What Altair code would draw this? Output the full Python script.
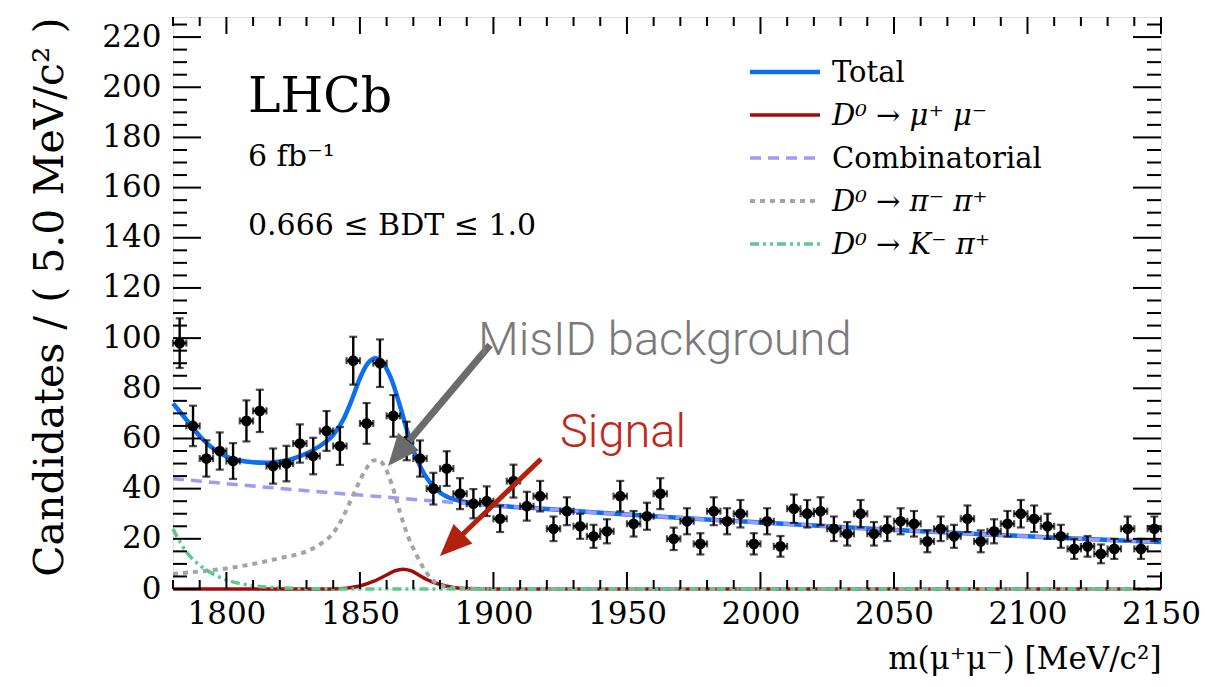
import altair as alt
import pandas as pd
import numpy as np

# ---- binned data: m(mu+ mu-) bin centres (5 MeV bins) and candidate counts ----
bin_lo = 1780
bin_width = 5
counts = [
    98, 65, 52, 55, 51, 67, 71, 49, 50, 58, 53, 63, 57, 91, 66, 90, 69, 59, 52, 40,
    48, 38, 34, 35, 28, 43, 33, 37, 24, 31, 25, 21, 23, 37, 26, 29, 38, 20, 27, 18,
    31, 27, 30, 18, 27, 17, 32, 30, 31, 24, 22, 30, 22, 24, 27, 26, 19, 24, 21, 28,
    19, 23, 26, 30, 28, 25, 21, 16, 17, 14, 16, 24, 16, 24,
]

# ---- fit components, sampled along m ----
total_m = [1780, 1785, 1790, 1795, 1800, 1805, 1810, 1815, 1820, 1825, 1830, 1835,
           1840, 1844, 1847, 1850, 1853, 1856, 1859, 1862, 1865, 1868, 1871, 1874,
           1877, 1880, 1885, 1890, 1900, 1920, 1940, 1960, 1980, 2000, 2020, 2040,
           2060, 2080, 2100, 2120, 2140, 2150]
total_v = [74.0, 67.5, 61.0, 56.0, 52.8, 51.2, 50.5, 50.3, 50.8, 52.0, 54.0, 57.0,
           61.5, 68.0, 75.5, 84.0, 90.0, 92.0, 89.5, 83.0, 73.0, 62.0, 52.5, 46.0,
           41.5, 38.5, 35.8, 34.6, 33.4, 31.9, 30.4, 29.0, 27.7, 26.5, 25.3, 24.1,
           23.0, 22.0, 21.0, 20.0, 19.1, 18.7]

comb_m = [1780, 1800, 1820, 1840, 1860, 1880, 1900, 1920, 1940, 1960, 1980, 2000,
          2020, 2040, 2060, 2080, 2100, 2120, 2140, 2150]
comb_v = [44.0, 42.0, 40.1, 38.3, 36.6, 34.9, 33.4, 31.9, 30.4, 29.0, 27.7, 26.5,
          25.3, 24.1, 23.0, 22.0, 21.0, 20.0, 19.1, 18.7]

pipi_m = [1780, 1790, 1800, 1810, 1820, 1830, 1835, 1840, 1843, 1846, 1849, 1852,
          1855, 1857, 1859, 1862, 1865, 1868, 1871, 1874, 1877, 1880, 1885, 1890,
          1900, 2150]
pipi_v = [6.0, 7.0, 8.2, 10.0, 12.3, 15.0, 17.8, 22.3, 27.3, 34.0, 41.0, 47.3,
          51.2, 51.4, 49.3, 41.5, 30.5, 21.0, 14.0, 8.0, 3.8, 1.6, 0.4, 0.1,
          0.0, 0.0]

sig_m = [1780, 1840, 1845, 1850, 1855, 1860, 1863, 1866, 1869, 1872, 1875, 1880,
         1885, 1890, 1900, 2150]
sig_v = [0.0, 0.05, 0.35, 1.2, 3.0, 5.6, 7.2, 7.9, 7.3, 5.6, 3.8, 1.8,
         0.6, 0.15, 0.0, 0.0]

kpi_m = [1780, 1783, 1786, 1790, 1795, 1800, 1805, 1810, 1820, 1830, 1850, 2150]
kpi_v = [24.0, 18.0, 13.5, 9.5, 6.0, 3.6, 2.2, 1.3, 0.5, 0.15, 0.0, 0.0]

# ---- axis ticks ----
x_major = [1800, 1850, 1900, 1950, 2000, 2050, 2100, 2150]
x_minor = [v for v in range(1780, 2151, 10) if v not in x_major]
y_major = [0, 20, 40, 60, 80, 100, 120, 140, 160, 180, 200, 220]
y_minor = [v for v in range(0, 226, 5) if v not in y_major]

# ---- legend entries ----
leg_labels = ["Total", "D⁰ → μ⁺ μ⁻", "Combinatorial", "D⁰ → π⁻ π⁺", "D⁰ → K⁻ π⁺"]
leg_italic = [False, True, False, True, True]

W, H = 988, 572
X_DOM = [1780, 2150]
Y_DOM = [0, 228]
SERIF = "DejaVu Serif"

C_TOTAL = "#0d6ef2"
C_SIG = "#a10b0b"
C_COMB = "#9c9cf4"
C_PIPI = "#a4a4a4"
C_KPI = "#5dc98d"

xs = alt.Scale(domain=X_DOM, nice=False, zero=False)
ys = alt.Scale(domain=Y_DOM, nice=False, zero=False)

centres = [bin_lo + bin_width * (i + 0.5) for i in range(len(counts))]
err = np.sqrt(np.array(counts, dtype=float))
pts = pd.DataFrame({
    "m": centres,
    "n": counts,
    "lo": np.array(counts) - err,
    "hi": np.array(counts) + err,
    "mlo": np.array(centres) - bin_width / 2,
    "mhi": np.array(centres) + bin_width / 2,
})

x_enc = alt.X("m:Q", scale=xs,
              axis=alt.Axis(values=x_major, format="d", ticks=False, domain=False,
                            grid=False, labelFont=SERIF, labelFontSize=31,
                            labelColor="black", labelPadding=10, labelFlush=False,
                            title="m(μ⁺μ⁻)  [MeV/c²]", titleFont=SERIF,
                            titleFontSize=31, titleFontWeight="normal",
                            titleColor="black", titleAnchor="end", titlePadding=15))
y_enc = alt.Y("v:Q", scale=ys,
              axis=alt.Axis(values=y_major, format="d", ticks=False, domain=False,
                            grid=False, labelFont=SERIF, labelFontSize=31,
                            labelColor="black", labelPadding=12, labelFlush=False,
                            title="Candidates / ( 5.0 MeV/c² )", titleFont=SERIF,
                            titleFontSize=41, titleFontWeight="normal",
                            titleColor="black", titleAnchor="end", titlePadding=30))


def curve(ms, vs, color, width, dash=None):
    df = pd.DataFrame({"m": ms, "v": vs})
    kw = dict(color=color, strokeWidth=width, interpolate="monotone")
    if dash:
        kw["strokeDash"] = dash
    return alt.Chart(df).mark_line(**kw).encode(x=x_enc, y=y_enc)


base_axes = curve(total_m, total_v, C_TOTAL, 4.5)
sig_line = curve(sig_m, sig_v, C_SIG, 3.5)
comb_line = curve(comb_m, comb_v, C_COMB, 3.5, [11, 7])
pipi_line = curve(pipi_m, pipi_v, C_PIPI, 4, [5, 5])
kpi_line = curve(kpi_m, kpi_v, C_KPI, 3.5, [9, 4, 3, 4, 3, 4])

# ---- data points with Poisson errors ----
pc = alt.Chart(pts)
vbar = pc.mark_rule(color="black", strokeWidth=2.4).encode(
    x=alt.X("m:Q", scale=xs), y=alt.Y("lo:Q", scale=ys), y2="hi:Q")
hbar = pc.mark_rule(color="black", strokeWidth=2.4).encode(
    x=alt.X("mlo:Q", scale=xs), x2="mhi:Q", y=alt.Y("n:Q", scale=ys))
cap_lo = pc.mark_tick(color="black", orient="horizontal", size=8, thickness=2.2).encode(
    x=alt.X("m:Q", scale=xs), y=alt.Y("lo:Q", scale=ys))
cap_hi = pc.mark_tick(color="black", orient="horizontal", size=8, thickness=2.2).encode(
    x=alt.X("m:Q", scale=xs), y=alt.Y("hi:Q", scale=ys))
cap_l = pc.mark_tick(color="black", orient="vertical", size=7, thickness=2.2).encode(
    x=alt.X("mlo:Q", scale=xs), y=alt.Y("n:Q", scale=ys))
cap_r = pc.mark_tick(color="black", orient="vertical", size=7, thickness=2.2).encode(
    x=alt.X("mhi:Q", scale=xs), y=alt.Y("n:Q", scale=ys))
dots = pc.mark_circle(color="black", opacity=1, size=115).encode(
    x=alt.X("m:Q", scale=xs), y=alt.Y("n:Q", scale=ys))

# ---- inward ticks on all four sides ----
def xticks(vals, length):
    d = pd.DataFrame({"t": vals})
    bot = alt.Chart(d).mark_rule(color="black", strokeWidth=2).encode(
        x=alt.X("t:Q", scale=xs), y=alt.value(H), y2=alt.value(H - length))
    top = alt.Chart(d).mark_rule(color="black", strokeWidth=2).encode(
        x=alt.X("t:Q", scale=xs), y=alt.value(0), y2=alt.value(length))
    return [bot, top]


def yticks(vals, length):
    d = pd.DataFrame({"t": vals})
    left = alt.Chart(d).mark_rule(color="black", strokeWidth=2).encode(
        y=alt.Y("t:Q", scale=ys), x=alt.value(0), x2=alt.value(length))
    right = alt.Chart(d).mark_rule(color="black", strokeWidth=2).encode(
        y=alt.Y("t:Q", scale=ys), x=alt.value(W), x2=alt.value(W - length))
    return [left, right]


tick_layers = (xticks(x_major, 17) + xticks(x_minor, 9)
               + yticks(y_major, 28) + yticks(y_minor, 14))

# ---- text labels ----
def label(txt, x, y, size, color="black", font=SERIF, weight="normal",
          style="normal", align="left"):
    return alt.Chart(pd.DataFrame({"s": [txt]})).mark_text(
        font=font, fontSize=size, color=color, fontWeight=weight, fontStyle=style,
        align=align, baseline="alphabetic").encode(
        text="s:N", x=alt.value(x), y=alt.value(y))


texts = [
    label("LHCb", 75, 95, 49),
    label("6 fb⁻¹", 75, 149, 30),
    label("0.666 ≤ BDT ≤ 1.0", 75, 218, 30),
]

# ---- legend ----
leg_styles = [
    (C_TOTAL, 4.5, None),
    (C_SIG, 3.5, None),
    (C_COMB, 3.5, [11, 7]),
    (C_PIPI, 4, [5, 5]),
    (C_KPI, 3.5, [9, 4, 3, 4, 3, 4]),
]
legend = []
for i, (lab, ital, (col, wd, dash)) in enumerate(zip(leg_labels, leg_italic, leg_styles)):
    ry = 55 + 43 * i
    kw = dict(color=col, strokeWidth=wd)
    if dash:
        kw["strokeDash"] = dash
    legend.append(alt.Chart(pd.DataFrame({"s": [lab]})).mark_rule(**kw).encode(
        x=alt.value(577), x2=alt.value(647), y=alt.value(ry)))
    legend.append(label(lab, 659, ry + 10, 29, style="italic" if ital else "normal"))

# ---- annotation arrows ----
def arrow(x0, y0, x1, y1, hx, hy, ang, color, width):
    shaft = alt.Chart(pd.DataFrame({"s": [0]})).mark_rule(
        color=color, strokeWidth=width).encode(
        x=alt.value(x0), y=alt.value(y0), x2=alt.value(x1), y2=alt.value(y1))
    head = alt.Chart(pd.DataFrame({"s": [0]})).mark_point(
        shape="M0,-1L0.85,1L-0.85,1Z", filled=True, opacity=1, color=color,
        size=1024, angle=ang, strokeWidth=0).encode(
        x=alt.value(hx), y=alt.value(hy))
    return [shaft, head]


annots = (
    arrow(317, 328, 236, 424, 225.3, 436.8, 220, "#6b6b6b", 7)
    + arrow(368, 442, 289, 518, 278.5, 527.9, 226, "#b3200c", 5)
    + [label("MisID background", 305, 338, 47, color="#7a7a7a", font="Roboto", weight=300),
       label("Signal", 387, 430, 47, color="#c0281a", font="Roboto", weight=300)]
)

chart = alt.layer(
    base_axes, sig_line, comb_line, pipi_line, kpi_line,
    vbar, hbar, cap_lo, cap_hi, cap_l, cap_r, dots,
    *tick_layers, *texts, *legend, *annots,
).properties(
    width=W, height=H,
    padding={"left": 173, "top": 17, "right": 44, "bottom": 98},
    autosize="none",
).configure_view(stroke="black", strokeWidth=2.5).configure(background="white")

chart.save("out.html", embed_options={"renderer": "svg", "actions": False})
